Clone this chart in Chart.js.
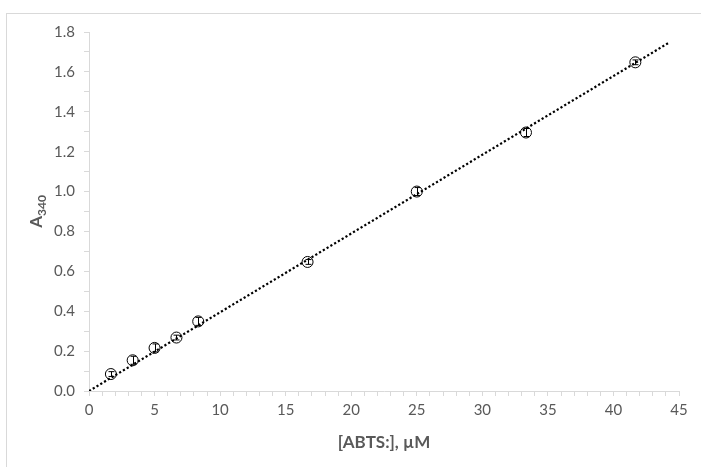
<!DOCTYPE html>
<html>
<head>
<meta charset="utf-8">
<script src="https://cdn.jsdelivr.net/npm/chart.js@4"></script>
<style>
  html, body { margin: 0; padding: 0; background: #fff; }
  #wrap { width: 701px; height: 467px; }
</style>
</head>
<body>
<div id="wrap"><canvas id="chart" width="701" height="467"></canvas></div>
<script>
// measured data (ABTS radical concentration vs absorbance at 340 nm)
const concentrations = [1.67, 3.33, 5.0, 6.67, 8.33, 16.67, 25.0, 33.33, 41.67];
const absorbance = [0.085, 0.154, 0.216, 0.268, 0.349, 0.647, 1.0, 1.296, 1.648];
const absorbanceErr = [0.012, 0.02, 0.02, 0.012, 0.02, 0.012, 0.02, 0.02, 0.012];

// linear trendline end points
const trendX = [0, 44.3];
const trendY = [0.0, 1.749];

const xTitle = '[ABTS:], \u00b5M';
const yTitleMain = 'A';
const yTitleSub = '340';

const axisGray = '#d9d9d9';
const textGray = '#595959';
const fontFamily = 'Lato, "Open Sans", sans-serif';

const frame = {
    id: 'frame',
    beforeDraw(chart) {
        const ctx = chart.ctx;
        ctx.save();
        ctx.fillStyle = '#fff';
        ctx.fillRect(0, 0, chart.width, chart.height);
        ctx.strokeStyle = axisGray;
        ctx.lineWidth = 1;
        ctx.strokeRect(6.5, 13.5, 900, 600);
        ctx.restore();
    }
};

const errorBars = {
    id: 'errorBars',
    afterDatasetsDraw(chart) {
        const ctx = chart.ctx;
        const x = chart.scales.x, y = chart.scales.y;
        ctx.save();
        ctx.strokeStyle = '#000';
        ctx.lineWidth = 1;
        concentrations.forEach((c, i) => {
            const px = Math.round(x.getPixelForValue(c)) + 0.5;
            const top = y.getPixelForValue(absorbance[i] + absorbanceErr[i]);
            const bot = y.getPixelForValue(absorbance[i] - absorbanceErr[i]);
            ctx.beginPath();
            ctx.moveTo(px, top);
            ctx.lineTo(px, bot);
            ctx.moveTo(px - 3, top);
            ctx.lineTo(px + 3, top);
            ctx.moveTo(px - 3, bot);
            ctx.lineTo(px + 3, bot);
            ctx.stroke();
        });
        ctx.restore();
    }
};

const axisTitles = {
    id: 'axisTitles',
    afterDraw(chart) {
        const ctx = chart.ctx;
        const area = chart.chartArea;
        ctx.save();
        ctx.fillStyle = textGray;
        ctx.textBaseline = 'middle';
        ctx.textAlign = 'center';
        ctx.font = 'bold 17px ' + fontFamily;
        ctx.fillText(xTitle, (area.left + area.right) / 2, 443);

        // y title with subscript, rotated
        ctx.translate(37, (area.top + area.bottom) / 2);
        ctx.rotate(-Math.PI / 2);
        ctx.font = 'bold 17px ' + fontFamily;
        const wMain = ctx.measureText(yTitleMain).width;
        ctx.font = 'bold 12px ' + fontFamily;
        const wSub = ctx.measureText(yTitleSub).width;
        const start = -(wMain + wSub) / 2;
        ctx.textAlign = 'left';
        ctx.font = 'bold 17px ' + fontFamily;
        ctx.fillText(yTitleMain, start, 0);
        ctx.font = 'bold 12px ' + fontFamily;
        ctx.fillText(yTitleSub, start + wMain, 5);
        ctx.restore();
    }
};

document.addEventListener('DOMContentLoaded', () => {
    const data = {
        datasets: [{
            label: 'A340',
            data: concentrations.map((c, i) => ({ x: c, y: absorbance[i] })),
            showLine: false,
            pointStyle: 'circle',
            pointRadius: 5.5,
            pointHoverRadius: 5.5,
            pointBackgroundColor: 'rgba(255,255,255,0)',
            pointBorderColor: '#000',
            pointBorderWidth: 1,
            order: 0
        }, {
            label: 'Linear',
            data: trendX.map((v, i) => ({ x: v, y: trendY[i] })),
            showLine: true,
            borderColor: '#000',
            borderWidth: 2.2,
            borderDash: [2.2, 2.2],
            pointRadius: 0,
            fill: false,
            order: 1
        }]
    };

    const config = {
        type: 'scatter',
        data: data,
        options: {
            responsive: false,
            animation: false,
            layout: {
                padding: { left: 0, top: 32, right: 22, bottom: 0 }
            },
            plugins: {
                legend: { display: false },
                tooltip: { enabled: false }
            },
            scales: {
                x: {
                    type: 'linear',
                    min: 0,
                    max: 45,
                    afterFit: (scale) => { scale.height = 76; },
                    border: { color: axisGray, width: 1 },
                    grid: { drawOnChartArea: false, drawTicks: true, tickLength: 5, color: axisGray },
                    ticks: {
                        stepSize: 1,
                        autoSkip: false,
                        maxRotation: 0,
                        padding: 5,
                        color: textGray,
                        font: { family: fontFamily, size: 15 },
                        callback: (v) => (Math.round(v) % 5 === 0 ? String(Math.round(v)) : '')
                    }
                },
                y: {
                    type: 'linear',
                    min: 0,
                    max: 1.8,
                    afterFit: (scale) => { scale.width = 89; },
                    border: { color: axisGray, width: 1 },
                    grid: { drawOnChartArea: false, drawTicks: true, tickLength: 5, color: axisGray },
                    ticks: {
                        stepSize: 0.1,
                        autoSkip: false,
                        padding: 9,
                        color: textGray,
                        font: { family: fontFamily, size: 15 },
                        callback: (v) => (Math.round(v * 10) % 2 === 0 ? v.toFixed(1) : '')
                    }
                }
            }
        },
        plugins: [frame, errorBars, axisTitles]
    };

    const ctx = document.getElementById('chart').getContext('2d');
    new Chart(ctx, config);
});
</script>
</body>
</html>
